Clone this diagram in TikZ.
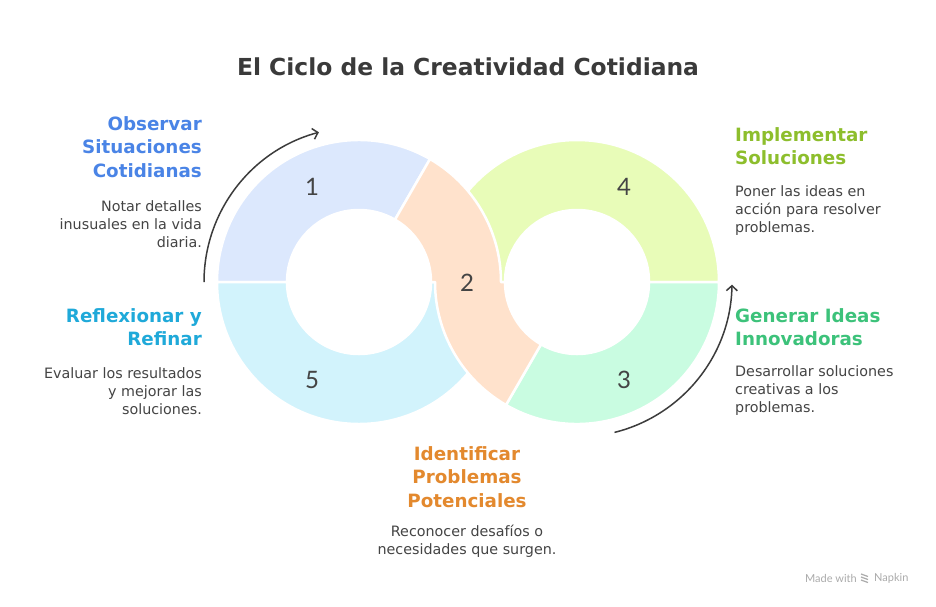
\documentclass[tikz,border=0pt]{standalone}
\usepackage{fontspec}
\setmainfont{DejaVu Sans}
\newfontfamily\numfont{Lato}
\usetikzlibrary{calc,arrows.meta}
\definecolor{fillA}{HTML}{DCE8FD}
\definecolor{fillB}{HTML}{FFE2CC}
\definecolor{fillC}{HTML}{C9FCE1}
\definecolor{fillD}{HTML}{E8FCB8}
\definecolor{fillE}{HTML}{D2F3FC}
\definecolor{hA}{HTML}{4A84E6}
\definecolor{hB}{HTML}{E3892E}
\definecolor{hC}{HTML}{3CC27A}
\definecolor{hD}{HTML}{8DBE2C}
\definecolor{hE}{HTML}{1FA9D9}
\definecolor{ink}{HTML}{444444}
\definecolor{titlec}{HTML}{3A3A3A}
\definecolor{arrowc}{HTML}{3C3C3C}
\definecolor{napk}{HTML}{ABABAB}
\tikzset{
 seg/.style={draw=white, line width=2.5pt, line join=round},
 num/.style={font=\numfont\fontsize{24}{24}\selectfont, text=ink, inner sep=0pt},
 head/.style={font=\bfseries\fontsize{18.3}{23.5}\selectfont, inner sep=0pt},
 body/.style={font=\fontsize{14.3}{18}\selectfont, text=ink, inner sep=0pt},
 cyc/.style={draw=arrowc, line width=1.5pt, -{Straight Barb[length=5pt,width=11pt]}},
}
\begin{document}
\begin{tikzpicture}[x=1pt,y=1pt]
\useasboundingbox (0,0) rectangle (936,-606);
\fill[white] (0,0) rectangle (936,-606);
\coordinate (CL) at (359,-282);
\coordinate (CR) at (577,-282);
% segment 1
\path[seg, fill=fillA] ($(CL)+(60:142)$) arc[start angle=60,end angle=180,radius=142]
  -- ($(CL)+(180:72)$) arc[start angle=180,end angle=60,radius=72] -- cycle;
% segment 5
\path[seg, fill=fillE] ($(CL)+(180:142)$) arc[start angle=180,end angle=360,radius=142]
  -- ($(CL)+(0:72)$) arc[start angle=360,end angle=180,radius=72] -- cycle;
% segment 4
\path[seg, fill=fillD] ($(CR)+(0:142)$) arc[start angle=0,end angle=180,radius=142]
  -- ($(CR)+(180:72)$) arc[start angle=180,end angle=0,radius=72] -- cycle;
% segment 3
\path[seg, fill=fillC] ($(CR)+(240:142)$) arc[start angle=240,end angle=360,radius=142]
  -- ($(CR)+(0:72)$) arc[start angle=360,end angle=240,radius=72] -- cycle;
% segment 2
\path[seg, fill=fillB] ($(CL)+(60:142)$) arc[start angle=60,end angle=0,radius=142]
  -- ($(CR)+(180:72)$) arc[start angle=180,end angle=240,radius=72]
  -- ($(CR)+(240:142)$) arc[start angle=240,end angle=180,radius=142]
  -- ($(CL)+(0:72)$) arc[start angle=0,end angle=60,radius=72] -- cycle;
% numbers
\node[num] (n1) at (312,-187) {1};
\node[num] (n2) at (467,-283) {2};
\node[num] (n3) at (624,-380) {3};
\node[num] (n4) at (624,-187) {4};
\node[num] (n5) at (312,-380) {5};
% cycle arrows
\coordinate (a1s) at ($(CL)+(180:155)$);
\coordinate (a2s) at ($(CR)+(-76:155)$);
\draw[cyc] (a1s) arc[start angle=180,end angle=105,radius=155];
\draw[cyc] (a2s) arc[start angle=-76,end angle=-1,radius=155];
% title
\node[font=\bfseries\fontsize{23.4}{24}\selectfont, text=titlec, inner sep=0pt] (title) at (468,-67) {El Ciclo de la Creatividad Cotidiana};
% left texts
\node[head, text=hA, align=right, anchor=east] (h1) at (202,-147) {Observar\\Situaciones\\Cotidianas};
\node[body, align=right, anchor=east] (b1) at (202,-224) {Notar detalles\\inusuales en la vida\\diaria.};
\node[head, text=hE, align=right, anchor=east] (h5) at (202,-327) {Reflexionar y\\Refinar};
\node[body, align=right, anchor=east] (b5) at (202,-391) {Evaluar los resultados\\y mejorar las\\soluciones.};
% right texts
\node[head, text=hD, align=left, anchor=west] (h4) at (735,-146) {Implementar\\Soluciones};
\node[body, align=left, anchor=west] (b4) at (735,-211) {Poner las ideas en\\acción para resolver\\problemas.};
\node[head, text=hC, align=left, anchor=west] (h3) at (735,-327) {Generar Ideas\\Innovadoras};
\node[body, align=left, anchor=west] (b3) at (735,-391) {Desarrollar soluciones\\creativas a los\\problemas.};
% bottom texts
\node[head, text=hB, align=center] (h2) at (467,-477) {Identificar\\Problemas\\Potenciales};
\node[body, align=center] (b2) at (467,-541) {Reconocer desafíos o\\necesidades que surgen.};
% footer
\node[font=\numfont\fontsize{11}{12}\selectfont, text=napk, inner sep=0pt, anchor=east] (mw) at (857,-578) {Made with};
\node[font=\numfont\fontsize{11}{12}\selectfont, text=napk, inner sep=0pt, anchor=west] (np) at (874,-578) {Napkin};
\foreach \i in {0,1,2}{
  \draw[napk, line width=1.2pt] ($(mw.east)+(4,4-3*\i)$) -- ++(7,-2.5);
}
\end{tikzpicture}
\end{document}
